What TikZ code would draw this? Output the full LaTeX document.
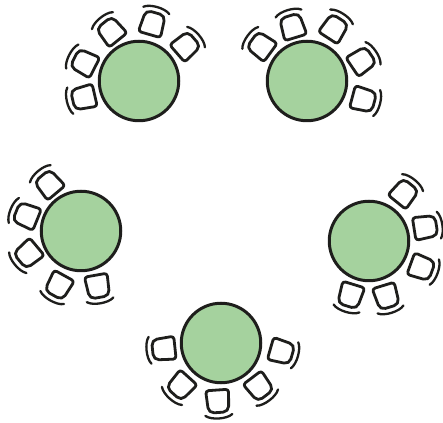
\documentclass[tikz,border=0pt]{standalone}
\definecolor{tablegreen}{HTML}{A5D29E}
\definecolor{ink}{HTML}{1E1E1C}
\tikzset{
  tabletop/.style={circle,draw=ink,fill=tablegreen,line width=3pt,minimum size=79.5pt,inner sep=0pt},
  chairline/.style={draw=ink,line width=2.8pt,line cap=round,line join=round},
  pics/chair/.style={code={
    \draw[chairline,fill=white,rounded corners=3pt] (-13,0) -- (-13,11.5) [rounded corners=5.5pt] -- (9.5,10) -- (9.5,-10) [rounded corners=3pt] -- (-13,-11.5) -- cycle;
    \draw[chairline,line width=2.3pt] (12,-13.5) .. controls (14.5,-10.5) and (15.5,-5) .. (15.5,0)
      .. controls (15.5,5) and (14.5,10.5) .. (12,13.5);
  }}
}
\newcommand{\chairset}[1]{\foreach \px/\py/\ang in {#1}{\pic[rotate=\ang] at (\px,422-\py) {chair};}}
\begin{document}
\begin{tikzpicture}[x=1pt,y=1pt]
\useasboundingbox (0,0) rectangle (443,422);
\chairset{82/98/193,83/62/153,110/30/129,153/22/74,187/45/41}
\chairset{260/45/144,292/25/107,335/27/57,363/60/34,365/100/-15}
\chairset{48/183/130,25/215/158,27/255/220,58/287/241,98/288/280}
\chairset{405/192/51,427/227/9,423/268/-20,387/298/-73,350/297/253}
\chairset{162/349/186,180/387/228,218/403/274,260/388/-53,283/352/-16}
\node[tabletop] (t1) at (139,341) {};
\node[tabletop] (t2) at (307,341) {};
\node[tabletop] (t3) at (81,191) {};
\node[tabletop] (t4) at (369,181) {};
\node[tabletop] (t5) at (221,79) {};
\end{tikzpicture}
\end{document}
